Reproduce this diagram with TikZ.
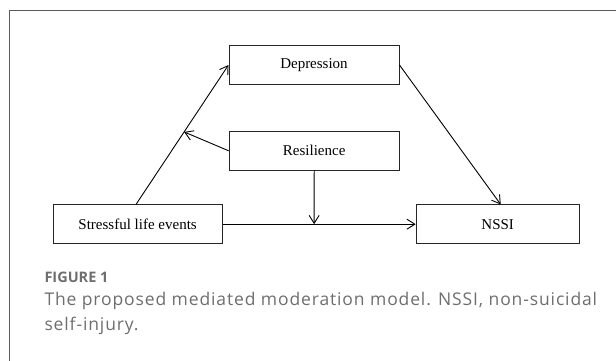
\documentclass[tikz,border=0pt]{standalone}
\usepackage{fontspec}
\setmainfont{Liberation Serif}
\setsansfont{Open Sans}
\newfontfamily\capfont[LetterSpace=5]{Open Sans}
\usepackage{tikz}
\usetikzlibrary{arrows.meta}
\definecolor{framegray}{HTML}{5A5A5A}
\definecolor{capgray}{HTML}{6E6E6E}

\begin{document}
\begin{tikzpicture}[x=1pt,y=-1pt,
		box/.style={draw=black!85,line width=1pt,minimum height=38.5pt,inner sep=0pt,font=\fontsize{15}{18}\selectfont},
		arr/.style={line width=0.9pt,-{Straight Barb[length=8pt,width=10pt,line width=0.9pt]}}]
			\useasboundingbox (0,0) rectangle (616,361);
			\draw [line width=1.2pt,color=framegray] (616,10.3) -- (9.7,10.3) -- (9.7,361);
			\node[box,minimum width=170pt] (dep) at (314,65) {Depression};
			\node[box,minimum width=170pt] (res) at (314.2,150.8) {Resilience};
			\node[box,minimum width=169pt] (sle) at (137.6,224.2) {Stressful life events};
			\node[box,minimum width=163pt] (nssi) at (497.7,224.2) {NSSI};
			\draw [arr] ([xshift=-1.6pt]sle.north) -- coordinate[pos=0.52] (mid1) (dep.west);
			\draw [arr] (res.west) -- (mid1);
			\draw [arr] (sle.east) -- coordinate[pos=0.474] (mid2) (nssi.west);
			\draw [arr] (res.south) -- (mid2);
			\draw [arr] (dep.east) -- ([xshift=3pt]nssi.north);
			\node[anchor=base west,text=capgray,font=\sffamily\bfseries\fontsize{14.5}{16}\selectfont,inner sep=0pt] (fig) at (44.3,282.3) {FIGURE 1};
			\node[anchor=base west,align=left,text=capgray,font=\capfont\fontsize{17.5}{25.7}\selectfont,inner sep=0pt] (cap) at (44.3,330.7) {The proposed mediated moderation model. NSSI, non-suicidal\\self-injury.};
\end{tikzpicture}
\end{document}
